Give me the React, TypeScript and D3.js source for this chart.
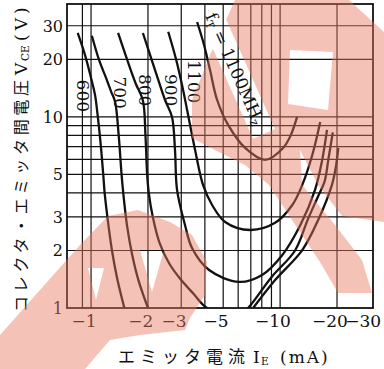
import React from 'react';
import * as d3 from 'd3';

// grid and tick values (|IE| in mA, VCE in V)
const ieGridLines = [0.9, 1, 2, 3, 4, 5, 6, 7, 8, 9, 10, 20];
const vceGridLines = [2, 3, 4, 5, 6, 7, 8, 9, 10, 20, 30];
const ieTickLabels = [1, 2, 3, 5, 10, 20, 30];
const vceTickLabels = [1, 2, 3, 5, 10, 20, 30];

// fT contours: [|IE| mA, VCE V]
const ft600 = [[0.85, 27.5], [0.93, 21], [1.0, 16], [1.05, 13], [1.08, 10.5], [1.12, 7.5], [1.16, 5.0], [1.18, 4.0], [1.22, 3.0], [1.29, 2.0], [1.38, 1.4], [1.5, 1.0]];
const ft700 = [[1.01, 26.6], [1.1, 20], [1.2, 16], [1.28, 13.5], [1.34, 12], [1.4, 8], [1.45, 5], [1.48, 4], [1.55, 2.7], [1.65, 1.9], [1.78, 1.4], [2.0, 1.0]];
const ft700b = [[7.2, 1.0], [9.41, 1.4], [13.1, 2.01], [15.9, 2.89], [18.8, 4.41], [19.8, 5.61], [20.3, 6.88]];
const ft800 = [[1.39, 27.5], [1.55, 20], [1.72, 15], [1.88, 12.2], [1.94, 8], [1.98, 5], [2.02, 4], [2.12, 3], [2.3, 2.2], [2.6, 1.7], [3.0, 1.4], [3.5, 1.18], [4.0, 1.02], [5.0, 0.9], [6.2, 0.92], [6.9, 1.02], [9.0, 1.45], [12.0, 2.0], [14.0, 2.9], [15.8, 3.8], [17.2, 4.6], [18.0, 6.0], [19.0, 8.3]];
const ft900 = [[1.88, 27.5], [2.18, 17.6], [2.46, 12.3], [2.68, 10], [2.78, 6.7], [2.85, 4.15], [3.14, 2.72], [3.42, 2.06], [4.21, 1.58], [6.07, 1.37], [8.03, 1.49], [10.25, 1.89], [12.8, 2.72], [15.3, 4.15], [16.7, 5.96], [17.7, 8.55]];
const ft1000 = [[2.56, 27.9], [2.82, 19.9], [3.07, 13.8], [3.22, 10.9], [3.55, 6.72], [3.91, 4.41], [4.37, 3.46], [5.12, 2.82], [6.94, 2.56], [9.41, 2.79], [11.6, 3.46], [13.1, 4.41], [14.8, 6.32], [16.3, 9.4]];
const ft1100 = [[3.64, 31.4], [3.96, 23.8], [4.26, 17.6], [4.64, 12.3], [5.31, 9.08], [6.53, 6.88], [8.33, 5.96], [10.37, 6.88], [11.4, 8.05], [12.3, 10]];

const contours = [ft600, ft700, ft700b, ft800, ft900, ft1000, ft1100];

const contourLabels = [
  { text: '600', ie: 0.907, vce: 12.9 },
  { text: '700', ie: 1.42, vce: 13.4 },
  { text: '800', ie: 1.93, vce: 13.8 },
  { text: '900', ie: 2.65, vce: 13.8 },
  { text: '1100', ie: 3.5, vce: 15.3 },
];

// scan watermark overlay (page pixels)
const wmTop = [[235, 0], [349, 0], [384, 32], [384, 222], [342, 216], [318, 185], [300, 150], [302, 185], [335, 225], [362, 260], [372, 293], [338, 293], [320, 262], [300, 232], [269, 185], [245, 165], [215, 150], [192, 138], [192, 100], [210, 55]];
const wmTopHole = [[290, 50], [333, 52], [328, 110], [288, 104]];
const wmLow = [[108, 216], [138, 210], [170, 222], [192, 235], [207, 262], [205, 295], [190, 318], [185, 330], [140, 335], [110, 340], [85, 369], [0, 369], [0, 335], [40, 290], [80, 245]];
const wmLowHoles = [[[140, 250], [164, 250], [152, 292]], [[88, 268], [104, 268], [96, 300]]];

const poly = (pts: number[][]) => 'M' + pts.map(p => p.join(',')).join('L') + 'Z';

export default function App() {
  const x = d3.scaleLog().domain([0.746, 31]).range([67, 373]);
  const y = d3.scaleLog().domain([1, 39]).range([308, 4]);
  const line = d3.line<number[]>()
    .x(d => x(d[0]))
    .y(d => y(d[1]))
    .curve(d3.curveCatmullRom.alpha(0.5));

  const serif = '"DejaVu Serif", "Liberation Serif", serif';
  const jp = '"Noto Sans CJK JP", sans-serif';
  const ink = '#111';
  const [x0, x1] = x.range();
  const [y0, y1] = y.range();

  return (
    <svg width={384} height={369} style={{ position: 'absolute', left: 0, top: 0 }}>
      <defs>
        <clipPath id="plot">
          <rect x={x0} y={y1} width={x1 - x0} height={y0 - y1} />
        </clipPath>
        <mask id="wmMask">
          <rect width={384} height={369} fill="#fff" />
          <rect x={-6} y={-18} width={140} height={24} fill="#000" transform="translate(204,14) rotate(66)" />
        </mask>
      </defs>
      <rect width={384} height={369} fill="#fff" />

      {/* grid */}
      {ieGridLines.map(v => (
        <line key={'gx' + v} x1={x(v)} x2={x(v)} y1={y1} y2={y0} stroke={ink} strokeWidth={1.2} />
      ))}
      {vceGridLines.map(v => (
        <line key={'gy' + v} x1={x0} x2={x1} y1={y(v)} y2={y(v)} stroke={ink} strokeWidth={1.2} />
      ))}
      <rect x={x0} y={y1} width={x1 - x0} height={y0 - y1} fill="none" stroke={ink} strokeWidth={1.8} />

      {/* fT contours */}
      <g clipPath="url(#plot)">
        {contours.map((c, i) => (
          <path key={i} d={line(c) || ''} fill="none" stroke={ink} strokeWidth={2.3} />
        ))}
      </g>

      {contourLabels.map(l => (
        <text key={l.text} transform={`translate(${x(l.ie)},${y(l.vce)}) rotate(90)`} textAnchor="middle" dy="0.36em"
          fontFamily={serif} fontSize={17} fill={ink}>{l.text}</text>
      ))}
      <text transform="translate(205,16) rotate(66)" fontFamily={serif} fontSize={17} fill={ink}>
        f<tspan fontSize={11} dy={3}>T</tspan><tspan dy={-3}> = 1100MH</tspan><tspan fontSize={12} dy={2}>z</tspan>
      </text>

      {/* tick labels */}
      {vceTickLabels.map(v => (
        <text key={'ty' + v} x={63} y={y(v)} dy="0.36em" textAnchor="end" fontFamily={serif} fontSize={16} fill={ink}>{v}</text>
      ))}
      {ieTickLabels.map(v => (
        <text key={'tx' + v} x={x(v) + String(v).length * 0.636 * 17 / 2} y={327} textAnchor="end"
          fontFamily={serif} fontSize={17} fill={ink}>{'\u2212' + v}</text>
      ))}

      {/* axis titles */}
      <text transform="translate(27,312) rotate(-90)" fontFamily={jp} fontSize={16} letterSpacing={3.7} fill={ink}>コレクタ・エミッタ間電圧</text>
      <text transform="translate(27,75) rotate(-90)" fontFamily={serif} fontSize={17} fill={ink}>V</text>
      <text transform="translate(29,61) rotate(-90)" fontFamily={serif} fontSize={10.5} fill={ink}>CE</text>
      <text transform="translate(27,41) rotate(-90)" fontFamily={serif} fontSize={17} letterSpacing={4} fill={ink}>(V)</text>

      <text x={118} y={363} fontFamily={jp} fontSize={17} letterSpacing={5} fill={ink}>エミッタ電流</text>
      <text x={253} y={363} fontFamily={serif} fontSize={17} fill={ink}>I</text>
      <text x={261} y={365} fontFamily={serif} fontSize={10.5} fill={ink}>E</text>
      <text x={280} y={363} fontFamily={serif} fontSize={17} letterSpacing={2} fill={ink}>(mA)</text>

      {/* watermark */}
      <g mask="url(#wmMask)" fill="rgb(232,120,95)" fillOpacity={0.45} fillRule="evenodd">
        <path d={poly(wmTop) + poly(wmTopHole)} />
        <path d={poly(wmLow) + wmLowHoles.map(poly).join('')} />
      </g>
    </svg>
  );
}
